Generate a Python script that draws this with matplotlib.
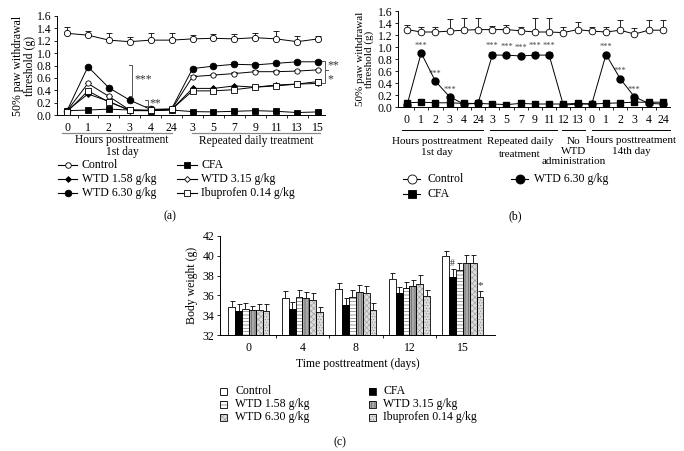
import matplotlib
matplotlib.use("Agg")
import matplotlib.pyplot as plt
import matplotlib.transforms as mtransforms
from matplotlib.lines import Line2D
from matplotlib.patches import Rectangle
import numpy as np

plt.rcParams['font.family'] = ['Liberation Serif', 'DejaVu Serif']
plt.rcParams['font.size'] = 8
plt.rcParams['hatch.linewidth'] = 0.4

# ---------------- Panel (a) data ----------------
a_labels = ['0', '1', '2', '3', '4', '24', '3', '5', '7', '9', '11', '13', '15']
a_control = [1.32, 1.29, 1.21, 1.185, 1.21, 1.21, 1.23, 1.24, 1.23, 1.25, 1.23, 1.185, 1.23]
a_control_err = [0.10, 0.06, 0.12, 0.08, 0.12, 0.11, 0.07, 0.07, 0.08, 0.07, 0.13, 0.09, 0.04]
a_cfa = [0.07, 0.08, 0.095, 0.08, 0.07, 0.08, 0.055, 0.05, 0.06, 0.07, 0.06, 0.04, 0.05]
a_wtd158 = [0.07, 0.34, 0.22, 0.07, 0.07, 0.09, 0.43, 0.43, 0.47, 0.45, 0.485, 0.50, 0.51]
a_wtd315 = [0.07, 0.51, 0.30, 0.08, 0.07, 0.09, 0.62, 0.645, 0.67, 0.70, 0.70, 0.71, 0.73]
a_wtd630 = [0.07, 0.78, 0.44, 0.24, 0.09, 0.10, 0.75, 0.79, 0.82, 0.81, 0.835, 0.86, 0.86]
a_ibu = [0.05, 0.39, 0.21, 0.08, 0.08, 0.09, 0.39, 0.39, 0.41, 0.45, 0.47, 0.50, 0.54]
a_wtd630_err = [0, 0.02, 0, 0, 0, 0, 0.02, 0.02, 0.03, 0.03, 0.02, 0.03, 0.03]
a_wtd315_err = [0, 0, 0, 0, 0, 0, 0.02, 0.02, 0.02, 0.03, 0.02, 0.02, 0.02]
a_ibu_err = [0, 0, 0, 0, 0, 0, 0.02, 0.02, 0.02, 0.02, 0.03, 0.02, 0.04]

# ---------------- Panel (b) data ----------------
b_labels = ['0', '1', '2', '3', '4', '24', '3', '5', '7', '9', '11', '12', '13',
            '0', '1', '2', '3', '4', '24']
b_control = [1.29, 1.25, 1.25, 1.265, 1.28, 1.29, 1.29, 1.29, 1.27, 1.25, 1.25, 1.24, 1.29,
             1.265, 1.25, 1.28, 1.215, 1.28, 1.28]
b_control_err = [0.08, 0.09, 0.09, 0.21, 0.21, 0.19, 0.06, 0.08, 0.07, 0.23, 0.23, 0.10, 0.13,
                 0.07, 0.09, 0.17, 0.10, 0.17, 0.17]
b_cfa = [0.07, 0.08, 0.07, 0.07, 0.06, 0.06, 0.05, 0.04, 0.06, 0.05, 0.05, 0.05, 0.06,
         0.05, 0.06, 0.07, 0.08, 0.08, 0.08]
b_wtd630 = [0.03, 0.90, 0.43, 0.17, 0.05, 0.06, 0.865, 0.865, 0.85, 0.865, 0.865, 0.03, 0.05,
            0.05, 0.875, 0.47, 0.17, 0.06, 0.05]
b_wtd630_err = [0, 0.03, 0.03, 0.02, 0, 0, 0.06, 0.04, 0.04, 0.05, 0.05, 0, 0,
                0, 0.03, 0.03, 0.02, 0, 0]
b_star_idx = [1, 2, 3, 6, 7, 8, 9, 10, 14, 15, 16]

# ---------------- Panel (c) data ----------------
c_days = ['0', '4', '8', '12', '15']
c_series = ['Control', 'CFA', 'WTD 1.58 g/kg', 'WTD 3.15 g/kg', 'WTD 6.30 g/kg', 'Ibuprofen 0.14 g/kg']
c_control = [34.8, 35.7, 36.6, 37.7, 40.0]
c_control_err = [0.6, 0.7, 0.7, 0.6, 0.5]
c_cfa = [34.46, 34.6, 35.0, 36.2, 37.9]
c_cfa_err = [0.7, 0.7, 0.7, 0.6, 0.75]
c_wtd158 = [34.6, 35.8, 35.8, 36.7, 38.6]
c_wtd158_err = [0.6, 0.7, 0.7, 0.7, 0.65]
c_wtd315 = [34.5, 35.75, 36.3, 36.9, 39.3]
c_wtd315_err = [0.45, 0.6, 0.8, 0.7, 0.8]
c_wtd630 = [34.5, 35.55, 36.2, 37.2, 39.3]
c_wtd630_err = [0.6, 0.65, 0.7, 0.9, 0.8]
c_ibu = [34.4, 34.3, 34.5, 35.9, 35.8]
c_ibu_err = [0.7, 0.5, 0.7, 0.65, 0.6]

W, H = 684, 451
fig = plt.figure(figsize=(W / 100, H / 100), dpi=100)


def px_axes(l, t, r, b):
    return fig.add_axes([l / W, 1 - b / H, (r - l) / W, (b - t) / H])


def fy(py):
    return 1 - py / H


def style_axes(ax):
    for s in ['top', 'right']:
        ax.spines[s].set_visible(False)
    for s in ['left', 'bottom']:
        ax.spines[s].set_linewidth(0.7)
    ax.tick_params(axis='y', direction='out', length=2.5, width=0.6, labelsize=8.5, pad=1.5)
    ax.tick_params(axis='x', which='major', length=0, labelsize=8.5, pad=5)
    ax.tick_params(axis='x', which='minor', direction='out', length=2.5, width=0.6)


LW = 0.7


def up_err(ax, x, y, e):
    e = np.asarray(e, dtype=float)
    ax.errorbar(x, y, yerr=[np.zeros_like(e), e], fmt='none', ecolor='k',
                elinewidth=0.6, capsize=2, capthick=0.6, zorder=2)


# ======== Panel (a) ========
axa = px_axes(57, 16, 325, 115)
xa = np.arange(len(a_labels))
styles_a = [
    ('Control', a_control, dict(marker='o', mfc='white', ms=4.5)),
    ('CFA', a_cfa, dict(marker='s', mfc='black', ms=4.2)),
    ('WTD 1.58 g/kg', a_wtd158, dict(marker='D', mfc='black', ms=3.0)),
    ('WTD 3.15 g/kg', a_wtd315, dict(marker='o', mfc='white', ms=3.8)),
    ('WTD 6.30 g/kg', a_wtd630, dict(marker='o', mfc='black', ms=4.8)),
    ('Ibuprofen 0.14 g/kg', a_ibu, dict(marker='s', mfc='white', ms=4.5)),
]
up_err(axa, xa, a_control, a_control_err)
up_err(axa, xa, a_wtd630, a_wtd630_err)
up_err(axa, xa, a_wtd315, a_wtd315_err)
up_err(axa, xa, a_ibu, a_ibu_err)
for name, vals, st in styles_a:
    axa.plot(xa, vals, color='k', lw=LW, mec='k', mew=0.6, zorder=3, **st)
axa.set_xlim(-0.48, 12.33)
axa.set_ylim(0, 1.6)
axa.set_yticks(np.arange(0, 1.61, 0.2))
axa.set_yticklabels([f'{v:.1f}' for v in np.arange(0, 1.61, 0.2)])
axa.set_xticks(xa)
axa.set_xticklabels(a_labels)
axa.set_xticks(xa[:-1] + 0.5, minor=True)
style_axes(axa)
axa.set_ylabel('50% paw withdrawal\nthreshold (g)', fontsize=8.5, linespacing=1.0)
axa.yaxis.set_label_coords(-0.08, 0.5)

# brackets
axa.plot([2.95, 3.12, 3.12, 2.95], [0.81, 0.81, 0.30, 0.30], color='#555555', lw=0.7, clip_on=False)
axa.text(3.22, 0.57, '***', fontsize=8.5, va='center', ha='left', color='#333333')
axa.plot([3.72, 3.85, 3.85, 3.72], [0.24, 0.24, 0.15, 0.15], color='#555555', lw=0.7, clip_on=False)
axa.text(3.92, 0.19, '**', fontsize=8.5, va='center', ha='left', color='#333333')
axa.plot([12.2, 12.33, 12.33, 12.2], [0.88, 0.88, 0.52, 0.52], color='#555555', lw=0.7, clip_on=False)
axa.plot([12.33, 12.45], [0.72, 0.72], color='#555555', lw=0.7, clip_on=False)
axa.text(12.45, 0.80, '**', fontsize=8.5, va='center', ha='left', color='#333333', clip_on=False)
axa.text(12.45, 0.58, '*', fontsize=8.5, va='center', ha='left', color='#333333', clip_on=False)

ta = mtransforms.blended_transform_factory(axa.transData, fig.transFigure)
axa.add_line(Line2D([-0.25, 5.0], [fy(133)] * 2, color='#888888', lw=0.9, transform=ta, clip_on=False))
axa.add_line(Line2D([5.95, 12.1], [fy(133)] * 2, color='#888888', lw=0.9, transform=ta, clip_on=False))
axa.text(2.63, fy(140.5), 'Hours posttreatment', transform=ta, ha='center', va='center', fontsize=8.3)
axa.text(2.63, fy(151.5), '1st day', transform=ta, ha='center', va='center', fontsize=8.3)
axa.text(9.05, fy(141), 'Repeated daily treatment', transform=ta, ha='center', va='center', fontsize=8.3)

# ======== Panel (b) ========
axb = px_axes(398, 11, 670, 107)
xb = np.arange(len(b_labels))
up_err(axb, xb, b_control, b_control_err)
up_err(axb, xb, b_wtd630, b_wtd630_err)
axb.plot(xb, b_cfa, color='k', lw=LW, marker='s', mfc='black', mec='k', ms=4.3, zorder=3)
axb.plot(xb, b_wtd630, color='k', lw=LW, marker='o', mfc='black', mec='k', ms=5.0, zorder=4)
axb.plot(xb, b_control, color='k', lw=LW, marker='o', mfc='white', mec='k', mew=0.6, ms=4.8, zorder=3)
for i in b_star_idx:
    axb.text(xb[i], b_wtd630[i] + b_wtd630_err[i] + 0.03, '***', fontsize=6, ha='center',
             va='bottom', color='#444444')
axb.set_xlim(-0.63, 18.5)
axb.set_ylim(0, 1.6)
axb.set_yticks(np.arange(0, 1.61, 0.2))
axb.set_yticklabels([f'{v:.1f}' for v in np.arange(0, 1.61, 0.2)])
axb.set_xticks(xb)
axb.set_xticklabels(b_labels)
axb.set_xticks(xb[:-1] + 0.5, minor=True)
style_axes(axb)
axb.set_ylabel('50% paw withdrawal\nthreshold (g)', fontsize=8, linespacing=0.95)
axb.yaxis.set_label_coords(-0.088, 0.5)

tb = mtransforms.blended_transform_factory(axb.transData, fig.transFigure)
for x0, x1 in [(-0.35, 5.34), (5.84, 10.55), (10.9, 12.5), (13.0, 18.5)]:
    axb.add_line(Line2D([x0, x1], [fy(130)] * 2, color='k', lw=0.7, transform=tb, clip_on=False))
gfs = 8
b_group_text = [
    (2.1, 141.5, 'Hours posttreatment'), (2.1, 152.5, '1st day'),
    (7.95, 141.5, 'Repeated daily'), (7.95, 154, 'treatment'),
    (11.7, 141.5, 'No'), (11.7, 151.5, 'WTD'), (11.7, 161.5, 'administration'),
    (15.75, 140.5, 'Hours posttreatment'), (15.75, 151, '14th day'),
]
for x, y, s in b_group_text:
    axb.text(x, fy(y), s, transform=tb, ha='center', va='center', fontsize=gfs)

# ======== Panel (c) ========
axc = px_axes(220, 236, 495, 335)
xc = np.arange(len(c_days))
c_vals = [c_control, c_cfa, c_wtd158, c_wtd315, c_wtd630, c_ibu]
c_errs = [c_control_err, c_cfa_err, c_wtd158_err, c_wtd315_err, c_wtd630_err, c_ibu_err]
c_styles = [
    dict(fc='white', hatch=None, hc='k'),
    dict(fc='black', hatch=None, hc='k'),
    dict(fc='white', hatch='-----', hc='#555555'),
    dict(fc='#a8a8a8', hatch='|||||', hc='#555555'),
    dict(fc='#dcdcdc', hatch='xxxxxx', hc='#999999'),
    dict(fc='#dcdcdc', hatch='......', hc='#888888'),
]
bw = 0.128
for k, (vals, errs, st) in enumerate(zip(c_vals, c_errs, c_styles)):
    xs = xc + (k - 2.5) * bw
    axc.bar(xs, vals, width=bw, color=st['fc'], edgecolor=st['hc'], hatch=st['hatch'],
            linewidth=0, zorder=2)
    axc.bar(xs, vals, width=bw, fill=False, edgecolor='k', linewidth=0.6, zorder=3)
    e = np.asarray(errs)
    axc.errorbar(xs, vals, yerr=[np.zeros_like(e), e], fmt='none', ecolor='k',
                 elinewidth=0.6, capsize=1.8, capthick=0.6, zorder=1)
axc.text(xc[4] - 1.5 * bw, c_cfa[4] + c_cfa_err[4] + 0.15, '#', fontsize=7, ha='center',
         va='bottom', color='#333333')
axc.text(xc[4] + 2.5 * bw, c_ibu[4] + c_ibu_err[4] + 0.1, '*', fontsize=8, ha='center',
         va='bottom', color='#333333')
axc.set_xlim(-0.54, 4.6)
axc.set_ylim(32, 42)
axc.set_yticks(np.arange(32, 42.1, 2))
axc.set_xticks(xc)
axc.set_xticklabels(c_days)
axc.set_xticks(xc[:-1] + 0.5, minor=True)
style_axes(axc)
axc.set_ylabel('Body weight (g)', fontsize=8.5)
axc.yaxis.set_label_coords(-0.08, 0.5)
axc.set_xlabel('Time posttreatment (days)', fontsize=8.5, labelpad=3)

# ======== Legends (manual) ========


def leg_line(x0, x1, y, marker, mfc, ms, label, tx):
    fig.add_artist(Line2D([x0 / W, x1 / W], [fy(y)] * 2, color='k', lw=0.8, transform=fig.transFigure))
    fig.add_artist(Line2D([(x0 + x1) / 2 / W], [fy(y)], marker=marker, mfc=mfc, mec='k', mew=0.6,
                          ms=ms, lw=0, transform=fig.transFigure))
    fig.text(tx / W, fy(y), label, ha='left', va='center', fontsize=8.5)


# (a)
leg_line(58, 77, 165, 'o', 'white', 4, 'Control', 82)
leg_line(58, 77, 179, 'D', 'black', 3, 'WTD 1.58 g/kg', 82)
leg_line(58, 77, 193, 'o', 'black', 4.8, 'WTD 6.30 g/kg', 82)
leg_line(177, 197, 165, 's', 'black', 4, 'CFA', 201)
leg_line(177, 197, 179, 'D', 'white', 3, 'WTD 3.15 g/kg', 201)
leg_line(177, 197, 193, 's', 'white', 4.5, 'Ibuprofen 0.14 g/kg', 201)
fig.text(170 / W, fy(216), '(a)', ha='center', va='center', fontsize=8.5)

# (b)
leg_line(403, 420, 179, 'o', 'white', 6.5, 'Control', 427)
leg_line(403, 420, 194, 's', 'black', 6.0, 'CFA', 427)
leg_line(511, 528, 179, 'o', 'black', 6.5, 'WTD 6.30 g/kg', 534)
fig.text(515 / W, fy(216), '(b)', ha='center', va='center', fontsize=8.5)

# (c)
for k, (name, st) in enumerate(zip(c_series, c_styles)):
    col = k % 2
    row = k // 2
    mx = [223, 372][col]
    tx = [235, 383][col]
    y = [391, 404, 417][row]
    s = 7
    r1 = Rectangle(((mx - s / 2) / W, fy(y + s / 2)), s / W, s / H, transform=fig.transFigure,
                   facecolor=st['fc'], edgecolor=st['hc'], hatch=st['hatch'], linewidth=0)
    r2 = Rectangle(((mx - s / 2) / W, fy(y + s / 2)), s / W, s / H, transform=fig.transFigure,
                   fill=False, edgecolor='k', linewidth=0.6)
    fig.add_artist(r1)
    fig.add_artist(r2)
    fig.text(tx / W, fy(y), name, ha='left', va='center', fontsize=8.5)
fig.text(340 / W, fy(442), '(c)', ha='center', va='center', fontsize=8.5)

fig.savefig('out.png', dpi=100)
